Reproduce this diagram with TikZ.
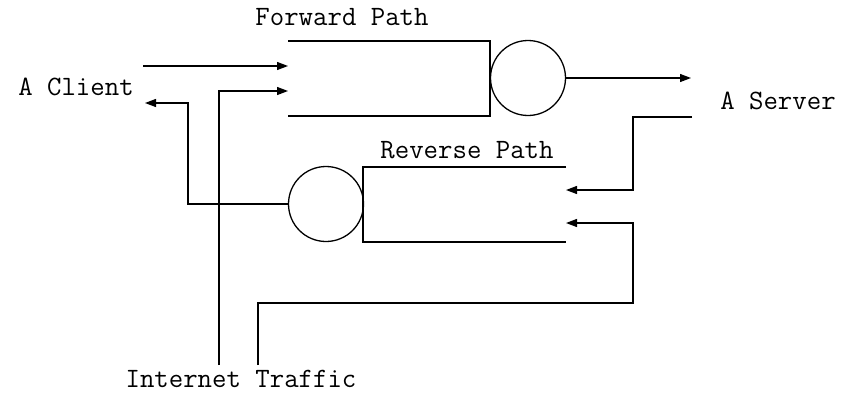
\documentclass[tikz,border=0pt]{standalone}
\usepackage{fontspec}
\usetikzlibrary{arrows.meta}
\tikzset{
  wire/.style={line width=1.3pt},
  flow/.style={wire,-{Triangle[length=11pt,width=8pt]}},
  server/.style={circle,draw,line width=1.3pt,minimum size=75pt,inner sep=0pt},
  lbl/.style={font=\ttfamily\fontsize{28}{32}\selectfont,inner sep=0pt}
}
\begin{document}
\begin{tikzpicture}[x=1pt,y=-1pt]
\useasboundingbox (0,0) rectangle (848,415);
% labels
\node[lbl] (fwdlbl) at (342,17) {Forward Path};
\node[lbl] (revlbl) at (467,150) {Reverse Path};
\node[lbl] (client) at (76,87) {A Client};
\node[lbl] (srv) at (778,101) {A Server};
\node[lbl] (inet) at (241,379) {Internet Traffic};
% forward queue and its service circle
\draw[wire] (288,41) -- (490,41) -- (490,116) -- (288,116);
\node[server] (fs) at (528,78) {};
% reverse queue and its service circle
\draw[wire] (566,167) -- (363,167) -- (363,242) -- (566,242);
\node[server] (rs) at (326,204) {};
% connector end points
\coordinate (cliOut) at (143,66);
\coordinate (fqIn1) at (288,66);
\coordinate (fqIn2) at (288,91);
\coordinate (cliIn) at (145,103);
\coordinate (srvIn) at (691,78);
\coordinate (srvOut) at (692,117);
\coordinate (rqIn1) at (566,190);
\coordinate (rqIn2) at (566,223);
\coordinate (inet1) at (219,365);
\coordinate (inet2) at (258,365);
% client to forward queue
\draw[flow] (cliOut) -- (fqIn1);
% internet traffic into forward queue
\draw[flow] (inet1) |- (fqIn2);
% forward server to server host
\draw[flow] (fs.east) -- (srvIn);
% server host back into reverse queue
\draw[flow] (srvOut) -- (633,117) |- (rqIn1);
% internet traffic into reverse queue
\draw[flow] (inet2) -- (258,303) -- (633,303) |- (rqIn2);
% reverse server back to client
\draw[flow] (rs.west) -- (188,204) |- (cliIn);
\end{tikzpicture}
\end{document}
